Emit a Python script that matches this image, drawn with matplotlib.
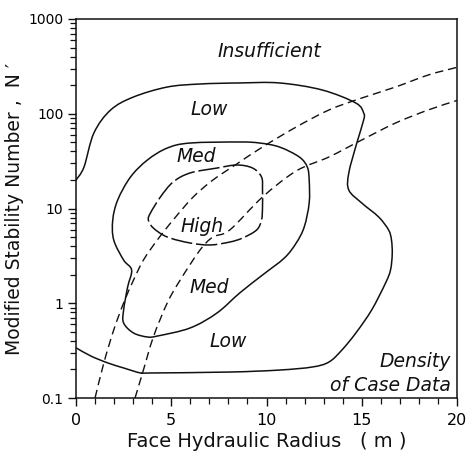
import matplotlib
matplotlib.use("Agg")
import matplotlib.pyplot as plt
from matplotlib.path import Path
from matplotlib.patches import PathPatch
import numpy as np

# ---- data (x = hydraulic radius, y = log10 N') ----
low_x = [0.0, 0.78, 1.67, 2.5, 3.39, 3.9, 8.07, 10.68, 12.4, 13.28, 13.96, 14.69,
         15.52, 16.25, 16.51, 16.6, 16.56, 16.41, 15.89, 15.0, 14.32, 14.32, 14.74, 15.1,
         15.1, 14.69, 12.92, 10.68, 8.59, 6.51, 4.79, 3.02, 1.82, 0.94, 0.42, 0.0]
low_logy = [-0.47, -0.557, -0.63, -0.683, -0.736, -0.736, -0.726, -0.705, -0.673, -0.62,
            -0.493, -0.314, -0.071, 0.214, 0.351, 0.52, 0.668, 0.773, 0.910, 1.058, 1.195,
            1.375, 1.691, 1.934, 2.008, 2.113, 2.251, 2.325, 2.325, 2.314, 2.282,
            2.177, 2.04, 1.797, 1.438, 1.30]

med_x = [5.99, 8.59, 9.64, 10.68, 11.72, 12.14, 12.24, 12.24, 11.98, 11.56, 10.94,
         9.79, 8.59, 7.40, 5.99, 4.27, 3.75, 3.02, 2.5, 2.5, 2.71, 2.92, 2.5, 1.98,
         1.93, 2.19, 2.86, 3.75, 4.79]
med_logy = [1.691, 1.702, 1.691, 1.649, 1.544, 1.438, 1.301, 1.058, 0.805, 0.636,
            0.478, 0.298, 0.108, -0.103, -0.261, -0.346, -0.356, -0.314, -0.208,
            -0.071, 0.171, 0.351, 0.456, 0.668, 0.879, 1.090, 1.332, 1.512, 1.638]

high_x = [8.44, 9.27, 9.74, 9.79, 9.79, 9.74, 9.48, 8.75, 8.07, 7.03, 5.99, 4.79,
          4.06, 3.80, 3.91, 4.43, 5.10, 5.99, 7.40]
high_logy = [1.459, 1.427, 1.332, 1.195, 1.016, 0.879, 0.773, 0.689, 0.646, 0.615,
             0.636, 0.699, 0.794, 0.879, 0.953, 1.121, 1.280, 1.375, 1.427]

bound1_x = [1.0, 1.46, 1.98, 2.5, 3.02, 3.54, 4.27, 5.10, 6.15, 7.19, 8.44, 9.79,
            11.56, 13.28, 15.0, 16.77, 18.49, 20.0]
bound1_logy = [-1.0, -0.631, -0.282, 0.003, 0.245, 0.456, 0.668, 0.879, 1.121, 1.301,
               1.470, 1.649, 1.860, 2.040, 2.166, 2.282, 2.409, 2.49]

bound2_x = [3.1, 3.54, 4.06, 4.79, 5.47, 6.51, 7.19, 8.07, 9.79, 11.56, 13.28, 15.0,
            16.77, 18.49, 20.0]
bound2_logy = [-1.0, -0.704, -0.356, 0.003, 0.245, 0.562, 0.699, 0.773, 1.121, 1.396,
               1.544, 1.723, 1.902, 2.040, 2.14]

region_labels = ["Insufficient", "Low", "Med", "High", "Med", "Low"]
region_x = [10.15, 6.98, 6.3, 6.6, 6.98, 8.0]
region_y = [449, 110, 35, 6.4, 1.45, 0.39]

xticks = [0, 5, 10, 15, 20]
yticks = [0.1, 1, 10, 100, 1000]
ytick_labels = ["0.1", "1", "10", "100", "1000"]

col = "#111111"


def curve_patch(xs, logys, closed, **kw):
    """Smooth curve through the traced points, drawn as a Bezier path by matplotlib."""
    P = np.column_stack([xs, logys]).astype(float)
    n = len(P)
    if closed:
        get = lambda i: P[i % n]
        nseg = n
    else:
        get = lambda i: P[min(max(i, 0), n - 1)]
        nseg = n - 1
    verts = [get(0)]
    codes = [Path.MOVETO]
    for i in range(nseg):
        p0, p1, p2, p3 = get(i - 1), get(i), get(i + 1), get(i + 2)
        c1 = p1 + (p2 - p0) / 6.0
        c2 = p2 - (p3 - p1) / 6.0
        verts += [c1, c2, p2]
        codes += [Path.CURVE4] * 3
    V = np.array(verts)
    V[:, 1] = 10 ** V[:, 1]
    return PathPatch(Path(V, codes), fill=False, **kw)


fig = plt.figure(figsize=(4.67, 4.59), dpi=100)
ax = fig.add_axes([76 / 467, 1 - 398 / 459, (457 - 76) / 467, (398 - 19) / 459])
ax.set_yscale("log")
ax.set_xlim(0, 20)
ax.set_ylim(0.1, 1000)

ax.add_patch(curve_patch(low_x, low_logy, False, edgecolor=col, lw=1.1))
ax.add_patch(curve_patch(med_x, med_logy, True, edgecolor=col, lw=1.1))
ax.add_patch(curve_patch(high_x, high_logy, True, edgecolor=col, lw=1.1,
                         linestyle=(0, (14, 2.5))))
ax.add_patch(curve_patch(bound1_x, bound1_logy, False, edgecolor=col, lw=1.0,
                         linestyle=(0, (6, 3.5))))
ax.add_patch(curve_patch(bound2_x, bound2_logy, False, edgecolor=col, lw=1.0,
                         linestyle=(0, (6, 3.5))))

for t, x, y in zip(region_labels, region_x, region_y):
    ax.text(x, y, t, fontsize=13.5, style="italic", ha="center", va="center", color=col)

ax.text(0.985, 0.095, "Density", transform=ax.transAxes, fontsize=13.5,
        style="italic", ha="right", va="center", color=col)
ax.text(0.985, 0.034, "of Case Data", transform=ax.transAxes, fontsize=13.5,
        style="italic", ha="right", va="center", color=col)

ax.set_xticks(xticks)
ax.set_xticklabels([str(v) for v in xticks], fontsize=11.5)
ax.set_xticks(np.arange(0, 21, 1), minor=True)
ax.set_yticks(yticks)
ax.set_yticklabels(ytick_labels, fontsize=10)
ax.tick_params(axis="both", which="major", direction="out", length=6, width=1.0, color=col)
ax.tick_params(axis="both", which="minor", direction="out", length=4, width=0.9, color=col)
ax.tick_params(axis="x", which="major", pad=5)
ax.tick_params(axis="y", which="major", pad=3)

ax.set_xlabel("Face Hydraulic Radius   ( m )", fontsize=14, labelpad=3, color=col)
ax.set_ylabel("Modified Stability Number ,  N \u2032", fontsize=13.5, labelpad=3, color=col)

for s in ax.spines.values():
    s.set_linewidth(1.1)
    s.set_color(col)

fig.savefig("out.png", dpi=100)
